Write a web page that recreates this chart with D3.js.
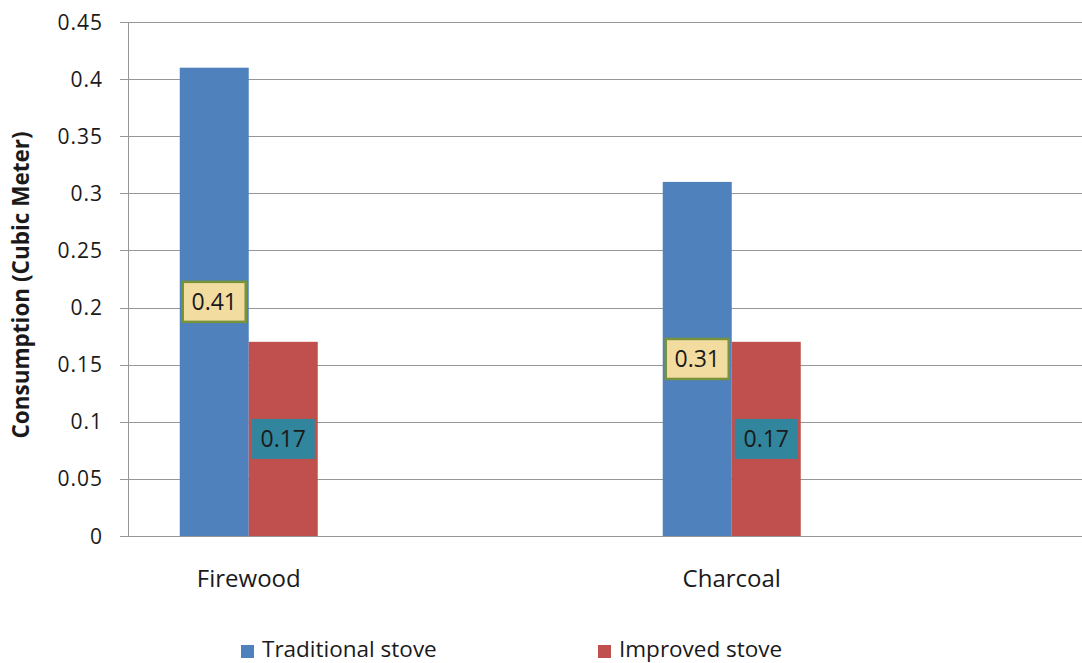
<!DOCTYPE html>
<html><head><meta charset="utf-8">
<script src="https://cdn.jsdelivr.net/npm/d3@7"></script>
<style>
html,body{margin:0;padding:0;background:#fff;}
svg{display:block;}
text{font-family:"Open Sans",sans-serif;fill:#1a1a1a;}
</style></head><body>
<svg id="c" width="1082" height="663"></svg>
<script>
// Category slots on the axis (two labelled, two empty as in the original)
const categories = ["Firewood", "", "Charcoal", ""];
const series = ["Traditional stove", "Improved stove"];
const traditional = [0.41, null, 0.31, null];
const improved = [0.17, null, 0.17, null];
const yTicks = [0, 0.05, 0.1, 0.15, 0.2, 0.25, 0.3, 0.35, 0.4, 0.45];
const yTickLabels = ["0", "0.05", "0.1", "0.15", "0.2", "0.25", "0.3", "0.35", "0.4", "0.45"];
const yTitle = "Consumption (Cubic Meter)";

(function(){
const colors = {"Traditional stove":"#4f81bd","Improved stove":"#c0504d"};
const labelStyle = {
  "Traditional stove":{fill:"#f3dca0", stroke:"#77933c"},
  "Improved stove":{fill:"#31859c", stroke:"none"}
};

const svg = d3.select("#c");
const pLeft = 128, pRight = 1094, pTop = 22, pBottom = 536;

const x = d3.scaleBand().domain(d3.range(categories.length)).range([pLeft, pRight]).padding(0);
const xs = d3.scaleBand().domain(series).range([0, x.bandwidth()]).paddingInner(0).paddingOuter(0.75);
const y = d3.scaleLinear().domain([0, 0.45]).range([pBottom, pTop]);

// gridlines
svg.append("g").selectAll("line").data(yTicks).join("line")
  .attr("x1", pLeft - 8).attr("x2", 1082)
  .attr("y1", d => Math.round(y(d)) + 0.5).attr("y2", d => Math.round(y(d)) + 0.5)
  .attr("stroke", "#969696").attr("stroke-width", 1);

// y axis line
svg.append("line").attr("x1", pLeft + 0.5).attr("x2", pLeft + 0.5)
  .attr("y1", pTop).attr("y2", pBottom + 1).attr("stroke", "#969696");

// y tick labels
svg.append("g").selectAll("text").data(yTicks).join("text")
  .attr("x", 103).attr("y", d => y(d)).attr("dy", "0.36em")
  .attr("text-anchor", "end").style("font-size", "21px").style("letter-spacing", "1px")
  .text((d, i) => yTickLabels[i]);

// y title
svg.append("text").attr("transform", `translate(29,285) rotate(-90)`)
  .attr("text-anchor", "middle").style("font-size", "22.5px").style("font-weight", "bold")
  .text(yTitle);

// bars
const rows = categories.map((c, i) => ({i, vals: [traditional[i], improved[i]]}));
const g = svg.append("g");
rows.forEach(r => {
  series.forEach((s, k) => {
    const v = r.vals[k];
    if (v == null) return;
    g.append("rect")
      .attr("x", x(r.i) + xs(s)).attr("width", xs.bandwidth())
      .attr("y", y(v)).attr("height", y(0) - y(v))
      .attr("fill", colors[s]);
  });
});

// data labels
rows.forEach(r => {
  series.forEach((s, k) => {
    const v = r.vals[k];
    if (v == null) return;
    const cx = x(r.i) + xs(s) + xs.bandwidth() / 2;
    const cy = y(v / 2);
    const w = 63, h = 40;
    g.append("rect").attr("x", cx - w / 2).attr("y", cy - h / 2)
      .attr("width", w).attr("height", h)
      .attr("fill", labelStyle[s].fill)
      .attr("stroke", labelStyle[s].stroke).attr("stroke-width", 2.5);
    g.append("text").attr("x", cx).attr("y", cy).attr("dy", "0.36em")
      .attr("text-anchor", "middle").style("font-size", "23px")
      .text(v.toFixed(2));
  });
});

// category labels
svg.append("g").selectAll("text").data(categories.map((c, i) => ({c, i})).filter(d => d.c))
  .join("text").attr("x", d => x(d.i) + x.bandwidth() / 2).attr("y", 587)
  .attr("text-anchor", "middle").style("font-size", "24px").text(d => d.c);

// legend
const legendX = [241, 598];
const lg = svg.append("g");
series.forEach((s, k) => {
  lg.append("rect").attr("x", legendX[k]).attr("y", 645).attr("width", 13).attr("height", 13).attr("fill", colors[s]);
  lg.append("text").attr("x", legendX[k] + 21).attr("y", 657).style("font-size", "22.5px").text(s);
});
})();
</script>
</body></html>
